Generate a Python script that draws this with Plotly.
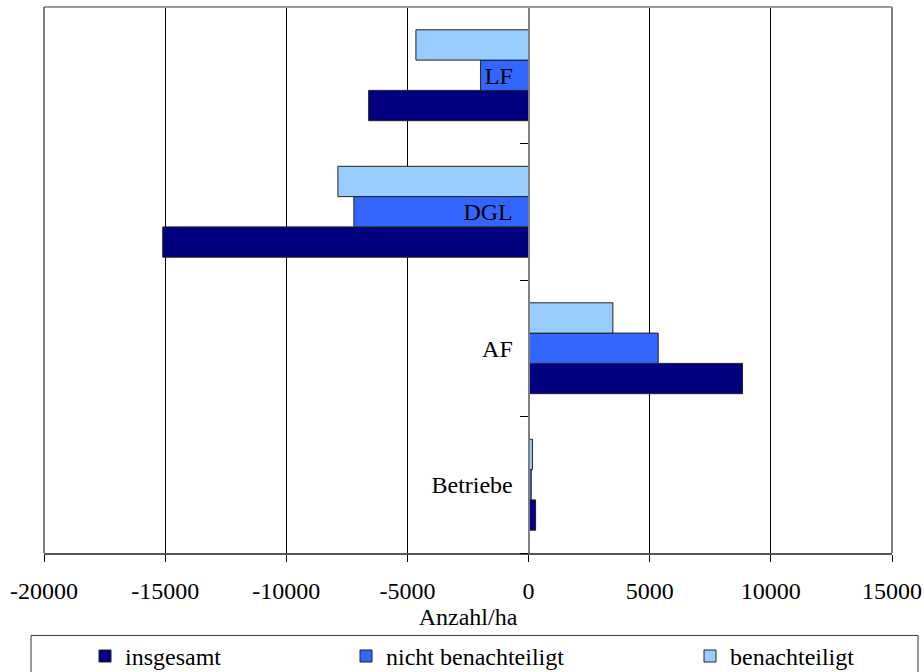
import plotly.graph_objects as go

categories = ["Betriebe", "AF", "DGL", "LF"]
insgesamt = [290, 8830, -15100, -6600]
nicht_benachteiligt = [110, 5350, -7210, -1980]
benachteiligt = [160, 3480, -7870, -4650]

x_tickvals = [-20000, -15000, -10000, -5000, 0, 5000, 10000, 15000]
x_ticktext = ["-20000", "-15000", "-10000", "-5000", "0", "5000", "10000", "15000"]

FONT = "Liberation Serif, Times New Roman, serif"
W, H = 924, 672
L, R, T, B = 44, 32, 7, 118.5
PW = W - L - R
PH = H - T - B


def px_x(x):
    return (x - L) / PW


def px_y(y):
    return (H - B - y) / PH


fig = go.Figure()
series = [
    ("insgesamt", insgesamt, "#000080", "legend"),
    ("nicht benachteiligt", nicht_benachteiligt, "#3366FF", "legend2"),
    ("benachteiligt", benachteiligt, "#99CCFF", "legend3"),
]
for name, vals, color, lg in series:
    fig.add_trace(go.Bar(
        y=categories, x=vals, name=name, orientation="h",
        marker=dict(color=color, line=dict(color="#222222", width=1)),
        legend=lg, showlegend=True,
    ))

legend_common = dict(
    orientation="h", yanchor="middle", xanchor="left",
    font=dict(family=FONT, size=24, color="black"),
    bgcolor="rgba(0,0,0,0)", borderwidth=0,
)
ly = px_y(657)
fig.update_layout(
    width=W, height=H,
    margin=dict(l=L, r=R, t=T, b=B, autoexpand=False),
    paper_bgcolor="white", plot_bgcolor="white",
    showlegend=True,
    barmode="group", bargap=0.334, bargroupgap=0,
    font=dict(family=FONT, size=24, color="black"),
    legend=dict(x=px_x(85), y=ly, **legend_common),
    legend2=dict(x=px_x(346), y=ly, **legend_common),
    legend3=dict(x=px_x(690), y=ly, **legend_common),
    xaxis=dict(
        range=[-20000, 15000], tickmode="array",
        tickvals=x_tickvals, ticktext=x_ticktext,
        showgrid=True, gridcolor="black", gridwidth=1,
        zeroline=False, ticks="outside", ticklen=7, tickcolor="black",
        showline=True, linecolor="#555555", linewidth=2,
        automargin=False, ticklabelstandoff=8,
        tickfont=dict(family=FONT, size=24, color="black"),
        title=dict(text="Anzahl/ha", font=dict(family=FONT, size=24, color="black"), standoff=1),
    ),
    yaxis=dict(
        type="category", range=[-0.5, 3.5],
        anchor="free", position=20000 / 35000,
        tickson="boundaries", ticks="outside", ticklen=8, tickcolor="black",
        showline=True, linecolor="#808080", linewidth=2,
        showgrid=False, zeroline=False, automargin=False,
        ticklabelstandoff=10,
        tickfont=dict(family=FONT, size=24, color="black"),
    ),
    shapes=[
        dict(type="line", xref="paper", yref="paper", x0=0, x1=1, y0=1, y1=1,
             line=dict(color="#9a9a9a", width=2), layer="above"),
        dict(type="line", xref="paper", yref="paper", x0=1, x1=1, y0=0, y1=1,
             line=dict(color="#808080", width=2), layer="above"),
        dict(type="line", xref="paper", yref="paper", x0=0, x1=0, y0=0, y1=1,
             line=dict(color="black", width=1), layer="above"),
        dict(type="rect", xref="paper", yref="paper",
             x0=px_x(31), x1=px_x(918), y0=px_y(690), y1=px_y(636),
             line=dict(color="#333333", width=1), fillcolor="rgba(0,0,0,0)"),
    ],
)

fig.write_html(
    "out.html",
    config={"displayModeBar": False},
    post_script="document.body.style.margin='0';document.body.style.overflow='hidden';",
)
